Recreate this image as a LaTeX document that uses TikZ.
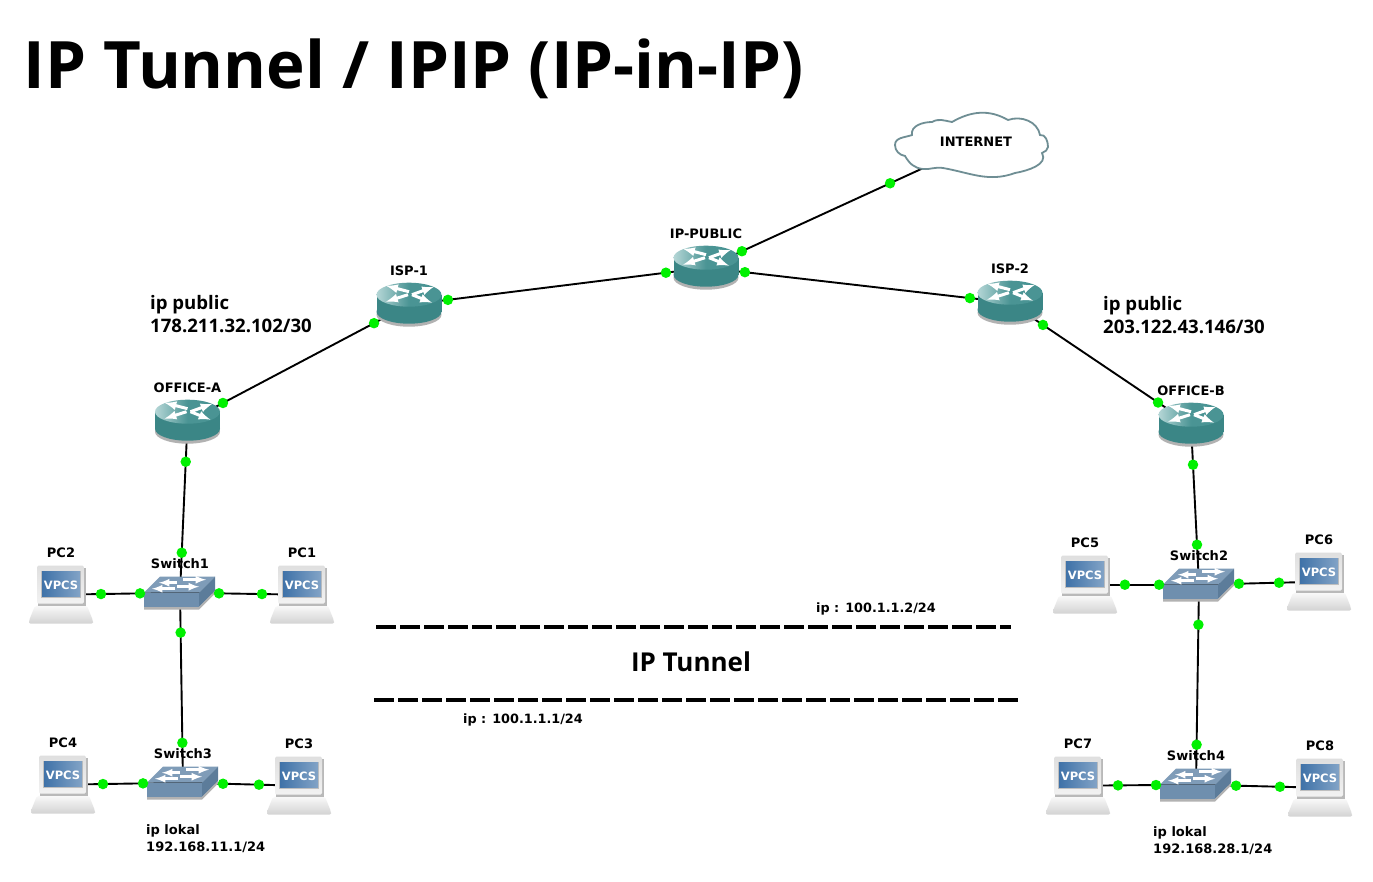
\documentclass[tikz,border=0pt]{standalone}
\usepackage{xcolor}
\usepackage{fontspec}
\usepackage{tikz}
\newfontfamily\titlefont{Open Sans}
\newfontfamily\labelfont{DejaVu Sans}
\definecolor{routerTop}{HTML}{4A9494}
\definecolor{routerHi}{HTML}{B5D6D6}
\definecolor{routerBody}{HTML}{3B8686}
\definecolor{switchTop}{HTML}{7F9CB8}
\definecolor{switchFront}{HTML}{6F8FAE}
\definecolor{switchSide}{HTML}{5C7C9A}
\definecolor{screenBlue}{HTML}{3F72A8}
\definecolor{cloudLine}{HTML}{6F8E94}
\definecolor{portGreen}{HTML}{00F000}
\tikzset{
    link/.style={line width=1.9pt, black},
    port/.style={circle, fill=portGreen, inner sep=0pt, minimum size=10.5pt},
    devlabel/.style={font=\labelfont\bfseries\fontsize{13}{13}\selectfont, inner sep=0pt},
    notelabel/.style={font=\labelfont\bfseries\fontsize{13}{17}\selectfont, inner sep=0pt, anchor=west, align=left},
    publabel/.style={font=\titlefont\bfseries\fontsize{18.6}{23}\selectfont, inner sep=0pt, anchor=west, align=left},
    tunnel/.style={line width=3.6pt, dash pattern=on 20pt off 4pt},
    whitearrow/.style={white, line width=3pt, -latex},
    router/.pic={
        \fill[gray!60] (0,10) ellipse [x radius=32.5, y radius=12];
        \fill[routerBody] (0,7) ellipse [x radius=32.5, y radius=12];
        \fill[routerBody] (-32.5,-10) rectangle (32.5,7);
        \shade[left color=routerHi, right color=routerTop, middle color=routerTop] (0,-10) ellipse [x radius=32.5, y radius=12];
        \draw[whitearrow] (0,-13) -- (-23,-19);
        \draw[whitearrow] (3,-10) -- (25,-18);
        \draw[whitearrow] (-1,-10) -- (-23,-3);
        \draw[whitearrow] (3,-10) -- (23,-2);
    },
    switch/.pic={
        \fill[gray!60] (-36,14) -- (19,14) -- (35,-2) -- (35,1) -- (19,17) -- (-36,17) -- cycle;
        \fill[switchFront] (-36,0) rectangle (19,14);
        \fill[switchSide] (19,0) -- (35,-16) -- (35,-2) -- (19,14) -- cycle;
        \fill[switchTop] (-36,0) -- (-20,-16) -- (35,-16) -- (19,0) -- cycle;
        \draw[whitearrow, line width=2.5pt] (-3,-10) -- (-21,-10);
        \draw[whitearrow, line width=2.5pt] (3,-13) -- (26,-13);
        \draw[whitearrow, line width=2.5pt] (-5,-4) -- (-28,-4);
        \draw[whitearrow, line width=2.5pt] (-3,-6) -- (19,-6);
    },
    vpcs/.pic={
        \shade[top color=gray!5, bottom color=gray!35, rounded corners=2pt] (-26,11) -- (26,11) -- (32,26) -- (32,29) -- (-32,29) -- (-32,26) -- cycle;
        \fill[gray!55] (-23,-27) rectangle (25,11);
        \shade[top color=gray!25, bottom color=gray!10, rounded corners=1.5pt] (-24,-29) rectangle (23,9);
        \fill[gray!50] (-20,-24) rectangle (20,3);
        \shade[left color=screenBlue, right color=screenBlue!65] (-19,-23) rectangle (19,2);
        \node[text=white, inner sep=0pt, font=\labelfont\bfseries\fontsize{11.5}{11.5}\selectfont] (screen) at (0,-9.5) {VPCS};
    }
}
% links as: from/to/first port/second port
\def\netlinks{officeA/ispA/.16/.842, ispA/ipPublic/.131/.865, ipPublic/ispB/.128/.868,
    ipPublic/internet/.135/.692, ispB/officeB/.182/.818, officeA/switchA/.234/.766,
    switchA/pcB/.336/.664, switchA/pcA/.32/.672, switchA/switchC/.21/.79,
    switchC/pcD/.333/.667, switchC/pcC/.345/.655, officeB/switchB/.25/.75,
    switchB/pcE/.35/.65, switchB/pcF/.333/.667, switchB/switchD/.2/.8,
    switchD/pcG/.339/.661, switchD/pcH/.323/.677}
\begin{document}
\begin{tikzpicture}[x=1pt, y=-1pt]
    \path[use as bounding box, fill=white] (0,0) rectangle (1373,881);
    \node[font=\titlefont\bfseries\fontsize{65.4}{66}\selectfont, inner sep=0pt, anchor=west] (title) at (23.5,68.5) {IP Tunnel / IPIP (IP-in-IP)};
    % positions first, the links go under the icons
    \foreach \dev/\x/\y in {officeA/187.5/421, ispA/409/304, ipPublic/706/267, ispB/1010/302, officeB/1191/424,
        switchA/180/592, switchB/1199/584, switchC/183/782, switchD/1196/784,
        pcA/302/594, pcB/61/594, pcC/299/785, pcD/63/784, pcE/1085/584, pcF/1319/581, pcG/1078/785, pcH/1320/787,
        internet/972/145}
        \coordinate[yshift=-0.7pt] (\dev) at (\x,\y);
    \foreach \a/\b/\p/\q in \netlinks
        \draw[link] (\a) -- (\b);
    % cloud
    \draw[cloudLine, line width=1.8pt, fill=white] (923,169)
        to[out=175,in=-60] (905,156)
        to[out=170,in=-90] (895,145)
        to[out=90,in=200] (912,135)
        to[out=100,in=180] (932,122)
        to[out=30,in=170] (952,122)
        to[out=30,in=150] (1008,120)
        to[out=20,in=100] (1040,135)
        to[out=10,in=90] (1048,147)
        to[out=-90,in=30] (1042,153)
        to[out=-60,in=10] (1015,173)
        to[out=-160,in=-10] (943,168)
        to[out=170,in=-5] cycle;
    \node[devlabel] (cloudText) at (976,142) {INTERNET};
    % devices
    \foreach \dev/\lab in {officeA/OFFICE-A, ispA/ISP-1, ipPublic/IP-PUBLIC, ispB/ISP-2, officeB/OFFICE-B}{
        \pic (\dev icon) at (\dev) {router};
        \node[devlabel, yshift=34pt] (\dev label) at (\dev) {\lab};
    }
    \foreach \dev/\lab in {switchA/Switch1, switchB/Switch2, switchC/Switch3, switchD/Switch4}{
        \pic (\dev icon) at (\dev) {switch};
        \node[devlabel, yshift=29pt] (\dev label) at (\dev) {\lab};
    }
    \foreach \dev/\lab in {pcA/PC1, pcB/PC2, pcC/PC3, pcD/PC4, pcE/PC5, pcF/PC6, pcG/PC7, pcH/PC8}{
        \pic (\dev icon) at (\dev) {vpcs};
        \node[devlabel, yshift=42pt] (\dev label) at (\dev) {\lab};
    }
    % ports on top of everything
    \foreach \a/\b/\p/\q in \netlinks
        \path (\a) -- (\b) node[port, pos=\p] (\a-\b-1) {} node[port, pos=\q] (\a-\b-2) {};
    % tunnel
    \coordinate (tunnelAa) at (376,627);
    \coordinate (tunnelAb) at (1011,627);
    \coordinate (tunnelBa) at (374,700);
    \coordinate (tunnelBb) at (1018,700);
    \draw[tunnel] (tunnelAa) -- (tunnelAb);
    \draw[tunnel] (tunnelBa) -- (tunnelBb);
    \node[font=\titlefont\bfseries\fontsize{26}{26}\selectfont, inner sep=0pt] (tunnelText) at (691,662) {IP Tunnel};
    \node[notelabel, font=\labelfont\bfseries\fontsize{12.8}{17}\selectfont] (tunnelIpB) at (816,609) {ip : 100.1.1.2/24};
    \node[notelabel, font=\labelfont\bfseries\fontsize{12.8}{17}\selectfont] (tunnelIpA) at (463,720) {ip : 100.1.1.1/24};
    \node[publabel] (publicA) at (150,314) {ip public\\178.211.32.102/30};
    \node[publabel] (publicB) at (1103,315) {ip public\\203.122.43.146/30};
    \node[notelabel] (lokalA) at (146,839) {ip lokal\\192.168.11.1/24};
    \node[notelabel] (lokalB) at (1153,841) {ip lokal\\192.168.28.1/24};
\end{tikzpicture}
\end{document}
